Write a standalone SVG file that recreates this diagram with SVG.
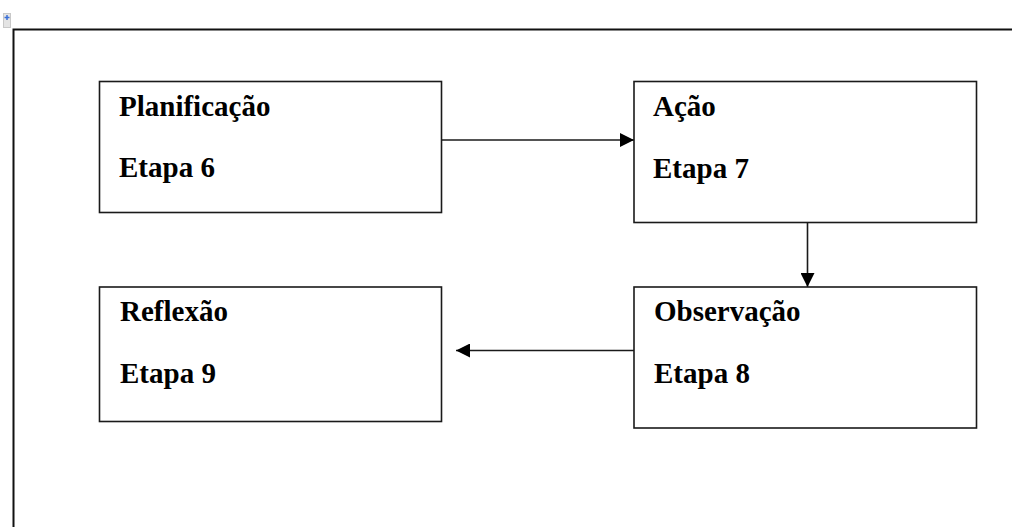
<svg xmlns="http://www.w3.org/2000/svg" width="1012" height="527" viewBox="0 0 1012 527">
<defs>
<style>
.box{fill:#fff;stroke:#1a1a1a;stroke-width:1.6}
.t{font-family:"Liberation Serif","Times New Roman",serif;font-weight:bold;font-size:29px;fill:#000}
.c{stroke:#1a1a1a;stroke-width:1.6;fill:none}
</style>
<marker id="ah" markerWidth="14" markerHeight="14" refX="14" refY="7" orient="auto" markerUnits="userSpaceOnUse">
<path d="M0,0 L14,7 L0,14 Z" fill="#000"/>
</marker>
</defs>
<rect width="1012" height="527" fill="#fff"/>
<g id="frame">
<path d="M13.5,527 V29.5 H1012" fill="none" stroke="#111" stroke-width="2"/>
<rect x="3.5" y="13.5" width="7" height="14" fill="#e4e4e4" stroke="#c8c8c8" stroke-width="1"/>
<path d="M4.5,17.5 H9.5 M7,15 V20" stroke="#3a6fd8" stroke-width="1.5"/>
</g>
<g id="connectors">
<line class="c" x1="441" y1="140" x2="634" y2="140" marker-end="url(#ah)"/>
<line class="c" x1="807.5" y1="222.5" x2="807.5" y2="287" marker-end="url(#ah)"/>
<line class="c" x1="634" y1="350.5" x2="456" y2="350.5" marker-end="url(#ah)"/>
</g>
<g id="n6">
<rect class="box" x="99.5" y="81.5" width="342" height="131"/>
<text class="t" x="119" y="116">Planificação</text>
<text class="t" x="119" y="177">Etapa 6</text>
</g>
<g id="n7">
<rect class="box" x="634" y="81.5" width="342.5" height="141"/>
<text class="t" x="653" y="116">Ação</text>
<text class="t" x="653" y="178">Etapa 7</text>
</g>
<g id="n8">
<rect class="box" x="634" y="287" width="342.5" height="141"/>
<text class="t" x="654" y="321">Observação</text>
<text class="t" x="654" y="383">Etapa 8</text>
</g>
<g id="n9">
<rect class="box" x="99.5" y="287" width="342" height="134.5"/>
<text class="t" x="120" y="321">Reflexão</text>
<text class="t" x="120" y="383">Etapa 9</text>
</g>
</svg>
